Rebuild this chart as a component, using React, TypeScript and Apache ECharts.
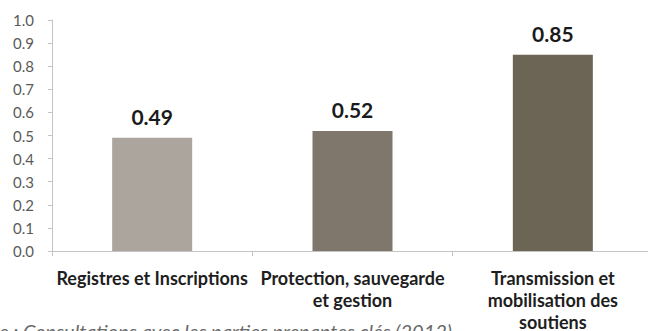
import React, { useEffect, useRef } from "react";
import * as echarts from "echarts";

const categories = [
  "Registres et Inscriptions",
  "Protection, sauvegarde\net gestion",
  "Transmission et\nmobilisation des\nsoutiens",
];
const values = [0.49, 0.52, 0.85];
const barColors = ["#aca59e", "#7f776b", "#6c6556"];
const sourceText = "Source : Consultations avec les parties prenantes clés (2012)";

export default function App() {
  const ref = useRef<HTMLDivElement>(null);
  useEffect(() => {
    if (!ref.current) return;
    const chart = echarts.init(ref.current, null, { renderer: "svg" });
    chart.setOption({
      animation: false,
      backgroundColor: "#ffffff",
      grid: {
        left: 52,
        top: 20,
        bottom: 80,
        width: 601,
        containLabel: false,
        outerBoundsMode: "none",
      },
      xAxis: {
        type: "category",
        data: categories,
        axisLine: { lineStyle: { color: "#c4c4c4", width: 1 } },
        axisTick: { show: true, length: 5, lineStyle: { color: "#c4c4c4" } },
        axisLabel: {
          interval: 0,
          margin: 16,
          fontFamily: "Lato",
          fontWeight: "bold",
          fontSize: 18,
          lineHeight: 22,
          color: "#1e1e1e",
        },
      },
      yAxis: {
        type: "value",
        min: 0,
        max: 1,
        interval: 0.1,
        axisLine: { show: true, lineStyle: { color: "#c4c4c4", width: 1 } },
        axisTick: { show: true, length: 4, lineStyle: { color: "#c4c4c4" } },
        splitLine: { show: false },
        axisLabel: {
          margin: 18,
          fontFamily: "Lato",
          fontSize: 15,
          color: "#5a5a5a",
          formatter: (v: number) => v.toFixed(1),
        },
      },
      series: [
        {
          type: "bar",
          barWidth: 80,
          data: values.map((v, i) => ({ value: v, itemStyle: { color: barColors[i] } })),
          label: {
            show: true,
            position: "top",
            distance: 11,
            fontFamily: "Lato",
            fontWeight: "bold",
            fontSize: 21,
            color: "#1a1a1a",
            formatter: (p: any) => Number(p.value).toFixed(2),
          },
        },
      ],
      graphic: [
        {
          type: "text",
          x: 452,
          y: 321,
          style: {
            text: sourceText,
            textAlign: "right",
            textVerticalAlign: "top",
            fontFamily: "Lato",
            fontStyle: "italic",
            fontSize: 20,
            fill: "#6a6a6a",
          },
        },
      ],
    });
    return () => chart.dispose();
  }, []);
  return (
    <div
      ref={ref}
      style={{ position: "fixed", left: 0, top: 0, width: 648, height: 331 }}
    />
  );
}
